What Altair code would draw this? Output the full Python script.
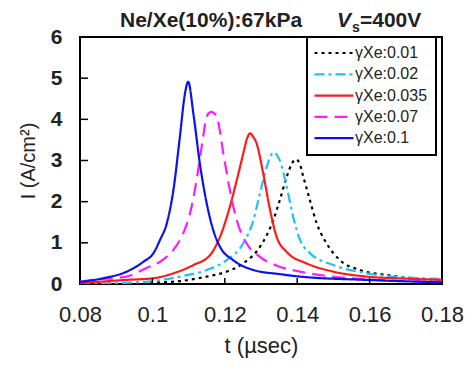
import altair as alt
import pandas as pd

# ---- data ----
series_names = ["γXe:0.01", "γXe:0.02", "γXe:0.035", "γXe:0.07", "γXe:0.1"]

t_001 = [0.08, 0.09, 0.1, 0.1076, 0.115, 0.1205, 0.1251, 0.1297, 0.1334, 0.1352, 0.1371,
         0.1385, 0.1396, 0.1407, 0.1417, 0.1435, 0.1454, 0.1481, 0.1518, 0.1573, 0.1647, 0.1721, 0.18]
i_001 = [0.0, 0.01, 0.03, 0.07, 0.18, 0.30, 0.50, 0.90, 1.55, 2.04, 2.60,
         2.92, 3.03, 2.92, 2.60, 2.04, 1.47, 0.99, 0.58, 0.34, 0.22, 0.14, 0.10]

t_002 = [0.08, 0.09, 0.1003, 0.1076, 0.115, 0.1205, 0.1251, 0.1279, 0.1297, 0.1316, 0.1327,
         0.1336, 0.1345, 0.1352, 0.1371, 0.1389, 0.1408, 0.1435, 0.15, 0.1592, 0.17, 0.18]
i_002 = [0.0, 0.02, 0.07, 0.18, 0.34, 0.58, 0.99, 1.55, 2.20, 2.85, 3.12,
         3.20, 3.12, 3.00, 2.36, 1.63, 1.07, 0.75, 0.46, 0.26, 0.16, 0.12]

t_0035 = [0.08, 0.0929, 0.1003, 0.1058, 0.1113, 0.1159, 0.1187, 0.1214, 0.1233, 0.1251, 0.1262,
          0.127, 0.1278, 0.1288, 0.1306, 0.1325, 0.1343, 0.1371, 0.1426, 0.15, 0.1592, 0.17, 0.18]
i_0035 = [0.02, 0.10, 0.14, 0.26, 0.46, 0.70, 1.15, 1.88, 2.52, 3.17, 3.55,
          3.66, 3.58, 3.41, 2.69, 1.80, 1.15, 0.78, 0.50, 0.30, 0.18, 0.13, 0.10]

t_007 = [0.08, 0.0837, 0.0929, 0.0984, 0.1021, 0.1058, 0.1085, 0.1104, 0.1122, 0.1136, 0.115,
         0.1157, 0.1164, 0.1171, 0.1178, 0.1196, 0.1214, 0.1233, 0.126, 0.1297, 0.1352, 0.1408, 0.1546, 0.18]
i_007 = [0.05, 0.10, 0.18, 0.39, 0.54, 0.83, 1.23, 1.72, 2.52, 3.33, 4.06,
         4.16, 4.18, 4.14, 4.06, 3.17, 2.28, 1.55, 0.99, 0.66, 0.42, 0.30, 0.14, 0.05]

t_01 = [0.08, 0.0864, 0.0929, 0.0975, 0.1003, 0.1021, 0.104, 0.1058, 0.1076, 0.109, 0.1099,
        0.1113, 0.1131, 0.115, 0.1168, 0.1187, 0.1223, 0.1279, 0.1352, 0.1408, 0.159, 0.18]
i_01 = [0.05, 0.14, 0.30, 0.54, 0.75, 1.07, 1.48, 2.28, 3.58, 4.63, 4.91,
        4.15, 2.93, 1.96, 1.31, 0.90, 0.58, 0.34, 0.24, 0.18, 0.10, 0.04]

x_ticks = [0.08, 0.1, 0.12, 0.14, 0.16, 0.18]
y_ticks = [0, 1, 2, 3, 4, 5, 6]
x_inner_ticks = [0.1, 0.12, 0.14, 0.16]
y_inner_ticks = [1, 2, 3, 4, 5]

colors = ["#000000", "#1ec3f0", "#ff1a1a", "#ff1aff", "#0a10f0"]
dashes = [[3, 4], [10, 4, 3, 4], [1, 0], [13, 7], [1, 0]]
widths = [2.2, 2.2, 2.2, 2.2, 3.2]

FONT = "Liberation Sans"

rows = []
for name, ts, vs in zip(series_names,
                        [t_001, t_002, t_0035, t_007, t_01],
                        [i_001, i_002, i_0035, i_007, i_01]):
    for k, (t, v) in enumerate(zip(ts, vs)):
        rows.append({"series": name, "t": t, "I": v, "k": k})
df = pd.DataFrame(rows)

xscale = alt.Scale(domain=[0.08, 0.18], nice=False, zero=False)
yscale = alt.Scale(domain=[0, 6], nice=False)
xaxis = alt.Axis(title="t (µsec)", values=x_ticks, format="~g", labelFlush=False)
yaxis = alt.Axis(title="I (A/cm²)", values=y_ticks, format="d", labelFlush=False,
                 labelFontWeight="bold", labelFontSize=21,
                 labelPadding=18, titleFontSize=20, titlePadding=12)

leg = alt.Legend(orient="none", legendX=227, legendY=0, title=None,
                 labelFontSize=16, labelFont=FONT, labelColor="#222",
                 symbolType="M-3,0H3", symbolSize=169, symbolOffset=11,
                 strokeColor="black", fillColor="white",
                 padding=8, rowPadding=5.3, labelOffset=13)

lines = alt.Chart(df).mark_line(interpolate="monotone", clip=True).encode(
    x=alt.X("t:Q", scale=xscale, axis=xaxis),
    y=alt.Y("I:Q", scale=yscale, axis=yaxis),
    order="k:Q",
    color=alt.Color("series:N", scale=alt.Scale(domain=series_names, range=colors), legend=leg),
    strokeDash=alt.StrokeDash("series:N", scale=alt.Scale(domain=series_names, range=dashes), legend=leg),
    strokeWidth=alt.StrokeWidth("series:N", scale=alt.Scale(domain=series_names, range=widths), legend=leg),
)

xt = alt.Chart(pd.DataFrame({"t": x_inner_ticks})).mark_rule(color="black", strokeWidth=1.5).encode(
    x=alt.X("t:Q", scale=xscale, axis=xaxis),
    y=alt.value(247), y2=alt.value(241))
yt = alt.Chart(pd.DataFrame({"I": y_inner_ticks})).mark_rule(color="black", strokeWidth=1.5).encode(
    y=alt.Y("I:Q", scale=yscale, axis=yaxis),
    x=alt.value(0), x2=alt.value(8))

one = alt.Data(values=[{"a": 1}])
t1 = alt.Chart(one).mark_text(text="Ne/Xe(10%):67kPa", font=FONT, fontSize=21, fontWeight="bold",
                              align="left", baseline="alphabetic", color="#222").encode(
    x=alt.value(40), y=alt.value(-10))
t2 = alt.Chart(one).mark_text(text="V", font=FONT, fontSize=21, fontWeight="bold", fontStyle="italic",
                              align="left", baseline="alphabetic", color="#222").encode(
    x=alt.value(257), y=alt.value(-10))
t3 = alt.Chart(one).mark_text(text="s", font=FONT, fontSize=14, fontWeight="bold",
                              align="left", baseline="alphabetic", color="#222").encode(
    x=alt.value(272), y=alt.value(-5))
t4 = alt.Chart(one).mark_text(text="=400V", font=FONT, fontSize=21, fontWeight="bold",
                              align="left", baseline="alphabetic", color="#222").encode(
    x=alt.value(280), y=alt.value(-10))

chart = alt.layer(lines, xt, yt, t1, t2, t3, t4).properties(
    width=362, height=247,
    padding={"left": 80, "top": 37, "right": 27, "bottom": 83},
    autosize=alt.AutoSizeParams(type="none"),
).configure_view(
    stroke="black", strokeWidth=2
).configure_axis(
    domain=False, grid=False, ticks=False,
    labelFont=FONT, titleFont=FONT, labelColor="#222", titleColor="#222",
    labelFontSize=22, titleFontSize=22, titleFontWeight="normal",
    labelPadding=20, titlePadding=10,
).configure_legend(
    strokeWidth=2
)

chart.save("out.html", embed_options={"renderer": "svg", "actions": False})
